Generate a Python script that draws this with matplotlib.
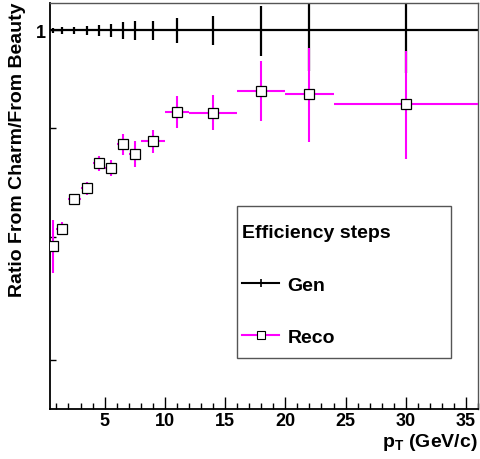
import matplotlib
matplotlib.use("Agg")
import matplotlib.pyplot as plt
from matplotlib.ticker import FixedLocator, FixedFormatter, NullFormatter, MultipleLocator
from matplotlib.patches import Rectangle
from matplotlib.lines import Line2D
import numpy as np

plt.rcParams['font.family'] = ['Liberation Sans', 'DejaVu Sans']
plt.rcParams['font.weight'] = 'bold'
plt.rcParams['mathtext.fontset'] = 'custom'
plt.rcParams['mathtext.rm'] = 'Liberation Sans:bold'
plt.rcParams['mathtext.it'] = 'Liberation Sans:bold'
plt.rcParams['mathtext.bf'] = 'Liberation Sans:bold'

# pT bin edges (GeV/c)
pt_edges = [0.5, 1, 2, 3, 4, 5, 6, 7, 8, 10, 12, 16, 20, 24, 36]

# charm/beauty ratio after each efficiency step
gen_ratio = [1.0, 1.0, 1.0, 1.0, 1.0, 1.0, 1.0, 1.0, 1.0, 1.0, 1.0, 1.0, 1.0, 1.0]
gen_err = [0.003, 0.004, 0.004, 0.0045, 0.006, 0.007, 0.009, 0.010, 0.010,
           0.014, 0.016, 0.027, 0.043, 0.045]
reco_ratio = [0.792, 0.807, 0.833, 0.843, 0.866, 0.862, 0.884, 0.875, 0.887,
              0.916, 0.915, 0.937, 0.934, 0.924]
reco_err = [0.023, 0.0055, 0.004, 0.006, 0.007, 0.0075, 0.010, 0.012, 0.011,
            0.016, 0.0176, 0.030, 0.0475, 0.054]

MAGENTA = '#ff00ff'

edges = np.array(pt_edges)
pt = 0.5 * (edges[1:] + edges[:-1])
pt_half = 0.5 * (edges[1:] - edges[:-1])

fig = plt.figure(figsize=(4.8, 4.6), dpi=100)
ax = fig.add_axes([0.105, 0.109, 0.891, 0.882])

ax.errorbar(pt, gen_ratio, xerr=pt_half, yerr=gen_err, fmt='none',
            ecolor='black', elinewidth=1.6, capsize=0)
ax.errorbar(pt, reco_ratio, xerr=pt_half, yerr=reco_err, fmt='none',
            ecolor=MAGENTA, elinewidth=1.5, capsize=0, zorder=3)
ax.plot(pt, reco_ratio, linestyle='none', marker='s', markersize=7,
        markerfacecolor='white', markeredgecolor='black',
        markeredgewidth=0.9, zorder=3.5)

ax.set_yscale('log')
ax.set_xlim(0.5, 36)
ax.set_ylim(0.664, 1.03)

ax.yaxis.set_major_locator(FixedLocator([1.0]))
ax.yaxis.set_major_formatter(FixedFormatter(['1']))
ax.yaxis.set_minor_locator(FixedLocator([0.7, 0.8, 0.9]))
ax.yaxis.set_minor_formatter(NullFormatter())
ax.xaxis.set_major_locator(MultipleLocator(5))
ax.xaxis.set_minor_locator(MultipleLocator(1))

ax.tick_params(which='both', direction='in', width=1.0, labelsize=13, colors='black')
ax.tick_params(which='major', length=8.5)
ax.tick_params(which='minor', length=4.3)
ax.tick_params(axis='x', pad=2.4, top=False)
ax.tick_params(axis='y', pad=3, right=False)

for side in ['left', 'bottom']:
    ax.spines[side].set_linewidth(1.3)
    ax.spines[side].set_color('black')
for side in ['top', 'right']:
    ax.spines[side].set_linewidth(1.0)
    ax.spines[side].set_color('#555555')

ax.set_ylabel('Ratio From Charm/From Beauty', fontsize=14, fontweight='bold',
              ha='right')
ax.yaxis.set_label_coords(-0.057, 1.004)
ax.text(1.0, -0.091, r'$\mathrm{p}_{\mathrm{T}}$ (GeV/c)', transform=ax.transAxes,
        ha='right', va='baseline', fontsize=14, fontweight='bold')

# legend frame and entries
ax.add_patch(Rectangle((0.437, 0.1256), 0.5, 0.375, transform=ax.transAxes,
                       facecolor='white', edgecolor='#555555', linewidth=1.0,
                       zorder=4))
gen_handle = Line2D([], [], color='black', linewidth=1.5, marker='|',
                    markersize=6, markeredgewidth=1.2)
reco_handle = Line2D([], [], color=MAGENTA, linewidth=1.5, marker='s',
                     markersize=5.5, markerfacecolor='white',
                     markeredgecolor='black', markeredgewidth=0.8)
leg = ax.legend(handles=[gen_handle, reco_handle], labels=['Gen', 'Reco'],
                title='Efficiency steps', alignment='left',
                loc='upper left', bbox_to_anchor=(0.44, 0.464),
                borderaxespad=0, frameon=False,
                prop={'size': 14, 'weight': 'bold'},
                title_fontproperties={'size': 14, 'weight': 'bold'},
                labelspacing=1.78, handlelength=1.9, handletextpad=0.41,
                borderpad=0.2)
leg.set_zorder(5)

fig.savefig('out.png', dpi=100)
